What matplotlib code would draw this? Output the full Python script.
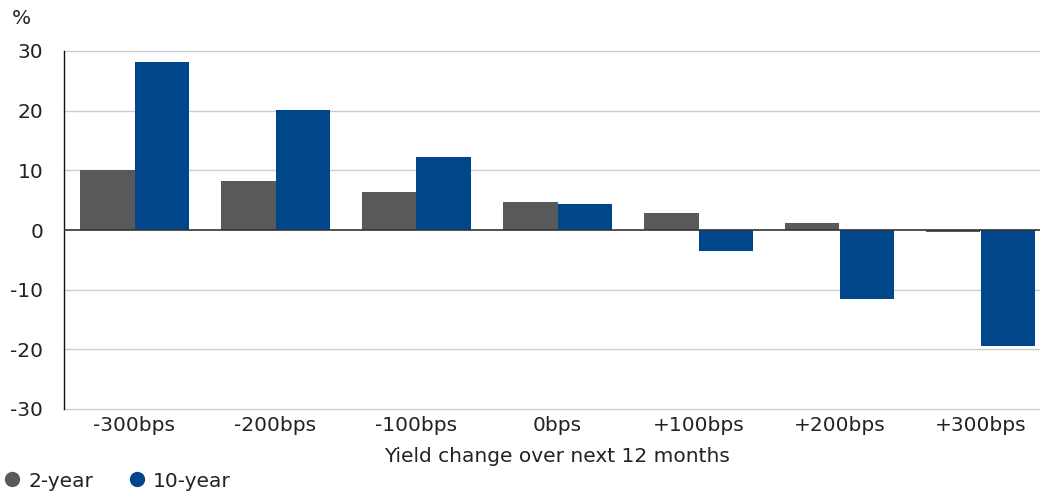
import matplotlib
matplotlib.use("Agg")
import matplotlib.pyplot as plt
import numpy as np
from matplotlib.lines import Line2D

categories = ["-300bps", "-200bps", "-100bps", "0bps", "+100bps", "+200bps", "+300bps"]
two_year = [10.0, 8.2, 6.4, 4.7, 2.9, 1.2, -0.4]
ten_year = [28.1, 20.1, 12.2, 4.4, -3.5, -11.5, -19.4]
yticks = [-30, -20, -10, 0, 10, 20, 30]

gray = "#58595B"
blue = "#00468B"
txt = "#222222"
fs = 14.5

plt.rcParams['font.family'] = ['DejaVu Sans']

fig = plt.figure(figsize=(10.4, 4.94), dpi=100)
ax = fig.add_axes([64/1040, 1 - 409/494, (1051 - 64)/1040, (409 - 51)/494])

x = np.arange(len(categories))
w = 0.39
ax.bar(x - w/2, two_year, w, color=gray, zorder=3)
ax.bar(x + w/2, ten_year, w, color=blue, zorder=3)

ax.set_xlim(-0.5, len(categories) - 0.5)
ax.set_ylim(-30, 30)
ax.set_yticks(yticks)
ax.set_yticklabels([str(v) for v in yticks], fontsize=fs, color=txt)
ax.set_xticks(x)
ax.set_xticklabels(categories, fontsize=fs, color=txt)
ax.tick_params(axis='x', length=0, pad=5)
ax.tick_params(axis='y', length=0, pad=15)

for v in yticks:
    if v != 0:
        ax.axhline(v, color="#cccccc", lw=1, zorder=1, clip_on=False)
ax.axhline(0, color="#333333", lw=1.2, zorder=4)

for s in ["top", "right", "bottom"]:
    ax.spines[s].set_visible(False)
ax.spines["left"].set_color("#111111")
ax.spines["left"].set_linewidth(1)

ax.set_xlabel("Yield change over next 12 months", fontsize=fs, color=txt)
ax.xaxis.set_label_coords((557 - 64) / (1051 - 64), -47/358)
ax.xaxis.label.set_va("center")
fig.text(12/1040, 1 - 18/494, "%", fontsize=fs, color=txt, va="center", ha="left")

handles = [Line2D([], [], marker='o', ls='', color=gray, markersize=10),
           Line2D([], [], marker='o', ls='', color=blue, markersize=10)]
fig.legend(handles, ["2-year", "10-year"], loc="center left", bbox_to_anchor=(-0.019, 1 - 481/494),
           ncol=2, frameon=False, fontsize=fs, handletextpad=0.1, columnspacing=1.45,
           labelcolor=txt, handlelength=1.4)

fig.savefig("out.png", dpi=100)
